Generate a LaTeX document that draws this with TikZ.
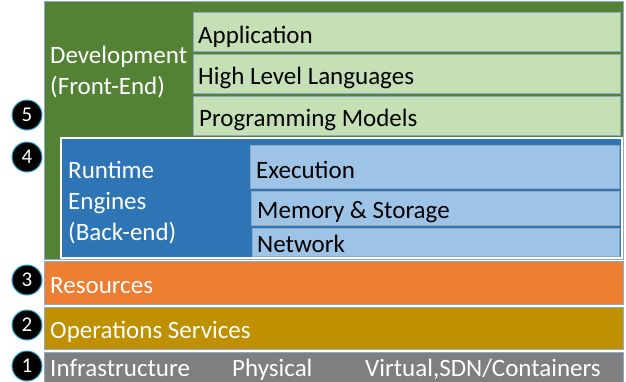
\documentclass[tikz,border=0pt]{standalone}
\usepackage{fontspec}
\setmainfont{Carlito}
\definecolor{dgreen}{HTML}{548235}
\definecolor{lgreen}{HTML}{C5E0B4}
\definecolor{dblue}{HTML}{2E75B6}
\definecolor{lblue}{HTML}{9DC3E6}
\definecolor{orng}{HTML}{ED7D31}
\definecolor{gold}{HTML}{BF9000}
\definecolor{gry}{HTML}{7F7F7F}
\definecolor{edge}{HTML}{8FAAC4}
\definecolor{ringc}{HTML}{2BA6D8}
\begin{document}
\begin{tikzpicture}[x=1pt,y=-1pt,
  lbl/.style={anchor=base west,inner sep=0pt,font=\fontsize{25}{30}\selectfont},
  wlbl/.style={lbl,text=white},
  klbl/.style={lbl,text=black},
  num/.style={circle,fill=black,draw=ringc,line width=1pt,minimum size=30pt,inner sep=0pt,text=white,font=\fontsize{21}{22}\selectfont},
  frame/.style={draw=edge,line width=0.8pt}]
\useasboundingbox (0,0) rectangle (626,381);
\fill[white] (0,0) rectangle (626,381);
% development block
\draw[frame,fill=dgreen] (44,1) rectangle (623,259);
\draw[frame,fill=lgreen] (193,12) rectangle (620,51);
\draw[frame,fill=lgreen] (193,54) rectangle (620,93);
\draw[frame,fill=lgreen] (193,96) rectangle (620,135);
% runtime block
\draw[white,line width=1.2pt,fill=dblue] (61,138) rectangle (622,258);
\draw[frame,fill=lblue] (250,145) rectangle (619,188);
\draw[frame,fill=lblue] (251,191) rectangle (619,225);
\draw[frame,fill=lblue] (252,228) rectangle (619,256);
% lower layers
\draw[frame,fill=orng] (44,261) rectangle (623,304);
\draw[frame,fill=gold] (44,307) rectangle (623,349);
\draw[frame,fill=gry] (44,352) rectangle (623,383);
% texts
\node[wlbl] (dev1) at (50,63) {Development};
\node[wlbl] (dev2) at (50,94) {(Front-End)};
\node[klbl] (app) at (198,43) {Application};
\node[klbl] (hll) at (198,84) {High Level Languages};
\node[klbl] (pm) at (199,126) {Programming Models};
\node[wlbl] (rt1) at (68,178) {Runtime};
\node[wlbl] (rt2) at (68,209) {Engines};
\node[wlbl] (rt3) at (68,240) {(Back-end)};
\node[klbl] (exe) at (256,178) {Execution};
\node[klbl] (mem) at (257,218) {Memory \& Storage};
\node[klbl] (net) at (257,252) {Network};
\node[wlbl] (res) at (50,293) {Resources};
\node[wlbl] (ops) at (50,338) {Operations Services};
\node[wlbl] (inf) at (50,376) {Infrastructure};
\node[wlbl] (phy) at (232,376) {Physical};
\node[wlbl] (vir) at (365,376) {Virtual,SDN/Containers};
% numbered circles
\node[num] (n5) at (27,115) {5};
\node[num] (n4) at (27,157) {4};
\node[num] (n3) at (27,280) {3};
\node[num] (n2) at (27,325) {2};
\node[num] (n1) at (27,366) {1};
\end{tikzpicture}
\end{document}
